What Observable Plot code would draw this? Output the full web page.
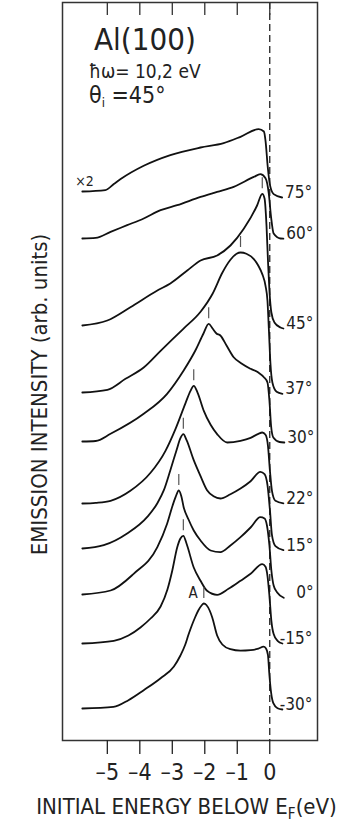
<!DOCTYPE html>
<html>
<head>
<meta charset="utf-8">
<script src="https://cdn.jsdelivr.net/npm/d3@7"></script>
<script src="https://cdn.jsdelivr.net/npm/@observablehq/plot@0.6"></script>
<style>
  html, body { margin: 0; padding: 0; background: #fff; }
  #chart { width: 347px; height: 822px; font-family: "Liberation Sans Narrow", "DejaVu Sans Condensed", "DejaVu Sans", sans-serif; font-stretch: condensed; }
  #chart svg { display: block; font-family: inherit; }
  #xtitle { width: 347px; height: 30px; line-height: 30px; font-size: 22px; color: #222; text-align: center; box-sizing: border-box; padding-left: 26px; white-space: nowrap; }
  #xtitle sub { font-size: 15px; vertical-align: -5px; line-height: 0; }
</style>
</head>
<body>
<div id="chart"></div>
<script>
// Emission angles (top to bottom) and the vertical offset of each spectrum
const angles  = ["75°", "60°", "45°", "37°", "30°", "22°", "15°", "0°", "-15°", "-30°"];
const offsets = [54.9, 50.2, 41.5, 34.8, 29.9, 23.7, 19.2, 14.6, 9.7, 3.2];

// Energy distribution curves: [initial energy (eV), intensity (arb. units)]
const spec75 = [[-5.77,0],[-5.06,0.14],[-4.8,0.74],[-4.59,1.24],[-3.88,2.57],[-3.06,3.64],[-2.13,4.4],[-1.42,4.84],[-0.9,5.47],[-0.34,6.24],[-0.18,6.0],[-0.13,5.07],[-0.06,2.4],[0,0.77],[0.12,-0.26],[0.38,-0.6]];
const spec60 = [[-5.77,0],[-5.36,0.06],[-4.9,0.66],[-4.39,1.33],[-3.88,2.0],[-3.36,2.83],[-2.85,3.33],[-2.13,4.16],[-1.62,4.66],[-1.11,5.16],[-0.49,6.16],[-0.29,6.43],[-0.13,6.03],[-0.03,4.5],[0.04,2.16],[0.12,0.5],[0.33,0],[0.42,-0.02]];
const spec45 = [[-5.77,0],[-5.0,0.5],[-4.29,1.83],[-3.46,3.5],[-3.06,4.2],[-2.54,5.5],[-2.13,6.5],[-1.62,7.0],[-1.21,8.0],[-0.8,9.67],[-0.39,12.0],[-0.23,13.17],[-0.16,12.7],[-0.1,10.0],[-0.055,6.5],[-0.01,3.5],[0.05,1.3],[0.145,0.3],[0.33,-0.2],[0.42,-0.3]];
const spec37 = [[-5.77,0],[-5.0,0.27],[-4.44,1.37],[-3.88,2.5],[-3.36,4.17],[-2.66,6.37],[-2.13,8.07],[-1.76,9.87],[-1.46,11.97],[-1.21,13.27],[-1.02,13.87],[-0.9,14.0],[-0.72,13.87],[-0.49,13.34],[-0.35,12.67],[-0.23,11.84],[-0.13,10.67],[-0.07,9.17],[-0.025,6.17],[0.02,2.97],[0.083,0.97],[0.21,0.07],[0.39,-0.13]];
const spec30 = [[-5.77,0],[-5.36,0.05],[-4.9,0.77],[-3.88,2.77],[-3.16,4.77],[-2.65,7.1],[-2.29,9.1],[-2.04,10.8],[-1.88,11.77],[-1.76,11.3],[-1.64,10.8],[-1.52,10.6],[-1.33,9.6],[-1.11,8.43],[-0.87,7.8],[-0.59,7.27],[-0.35,6.9],[-0.18,6.43],[-0.07,5.9],[-0.01,4.1],[0.04,1.6],[0.11,0.4],[0.3,-0.05],[0.45,-0.1]];
const spec22 = [[-5.77,0],[-5.36,0.07],[-4.9,0.27],[-4.29,1.27],[-3.67,3.07],[-3.21,5.27],[-2.9,7.47],[-2.59,10.07],[-2.44,11.27],[-2.34,11.77],[-2.22,11.07],[-2.03,9.27],[-1.82,7.87],[-1.62,6.94],[-1.31,6.1],[-0.9,6.27],[-0.59,6.57],[-0.35,6.97],[-0.23,7.1],[-0.13,6.87],[-0.055,5.77],[0.006,3.27],[0.068,1.27],[0.175,0.27],[0.42,0.02]];
const spec15 = [[-5.77,0],[-5.11,0.33],[-4.39,1.5],[-3.77,3.16],[-3.46,4.53],[-3.26,5.83],[-3.06,7.83],[-2.87,9.83],[-2.75,11.03],[-2.66,11.43],[-2.56,10.83],[-2.34,8.83],[-2.13,7.23],[-1.93,5.83],[-1.73,5.23],[-1.52,5.0],[-1.21,5.43],[-0.9,6.0],[-0.59,6.73],[-0.29,7.66],[-0.16,7.43],[-0.07,6.33],[0.006,3.83],[0.068,1.33],[0.175,0.23],[0.42,-0.17]];
const spec0  = [[-5.77,0],[-4.9,0.4],[-4.19,2.07],[-3.46,4.73],[-3.16,7.07],[-2.99,8.9],[-2.9,9.73],[-2.8,10.4],[-2.72,9.8],[-2.65,8.73],[-2.5,7.5],[-2.34,6.4],[-2.13,5.4],[-1.82,4.4],[-1.52,4.23],[-1.21,4.9],[-0.9,5.73],[-0.59,6.7],[-0.29,7.73],[-0.16,7.6],[-0.086,6.9],[-0.01,4.9],[0.05,2.4],[0.12,0.9],[0.23,0.2],[0.43,-0.33]];
const specM15 = [[-5.77,0],[-4.8,0.27],[-4.35,0.8],[-3.98,1.6],[-3.67,2.5],[-3.36,3.7],[-3.15,5.4],[-3.0,7.3],[-2.85,9.6],[-2.75,10.5],[-2.66,10.77],[-2.56,9.97],[-2.34,7.6],[-2.13,6.27],[-1.93,5.27],[-1.62,4.87],[-1.27,5.47],[-0.9,6.27],[-0.59,6.97],[-0.23,7.94],[-0.13,7.67],[-0.07,6.77],[-0.01,4.77],[0.05,2.27],[0.12,0.94],[0.24,0.27],[0.39,0]];
const specM30 = [[-5.77,0],[-4.81,0.16],[-4.35,0.83],[-3.88,1.83],[-3.36,3.03],[-2.95,4.2],[-2.75,5.3],[-2.6,6.4],[-2.5,7.4],[-2.4,8.3],[-2.3,9.1],[-2.2,9.8],[-2.1,10.3],[-2.03,10.5],[-1.95,10.35],[-1.85,9.8],[-1.77,9.1],[-1.62,7.3],[-1.46,6.4],[-1.21,5.93],[-0.9,5.78],[-0.59,5.83],[-0.35,5.98],[-0.19,6.18],[-0.12,6.03],[-0.055,5.33],[-0.01,3.33],[0.04,1.63],[0.11,0.53],[0.24,0.03],[0.39,-0.1]];
const spectra = [spec75, spec60, spec45, spec37, spec30, spec22, spec15, spec0, specM15, specM30];

// Energies of the marked emission peaks (none on the two top curves)
const peakEnergy = [null, null, -0.23, -0.9, -1.88, -2.34, -2.66, -2.8, -2.66, -2.03];
const peakName   = ["", "", "", "", "", "", "", "", "", "A"];
const energyTicks = [-5, -4, -3, -2, -1, 0];

// Long-format rows for the curves
const rows = spectra.flatMap((s, i) => s.map(([e, v]) => ({angle: angles[i], e, y: offsets[i] + v})));
const ends = spectra.map((s, i) => ({angle: angles[i], e: s[s.length - 1][0], y: offsets[i] + s[s.length - 1][1]}));
const starts = spectra.map((s, i) => ({angle: angles[i], e: s[0][0], y: offsets[i] + s[0][1]}));
const peaks = peakEnergy.flatMap((pe, i) => {
  if (pe === null) return [];
  const p = spectra[i].reduce((a, b) => Math.abs(b[0] - pe) < Math.abs(a[0] - pe) ? b : a);
  return [{e: pe, y: offsets[i] + p[1], name: peakName[i]}];
});

const yMax = 73.8;
const fmt = d => d < 0 ? "\u2013" + (-d) : String(d);

const chart = Plot.plot({
  width: 347,
  height: 792,
  marginLeft: 62,
  marginRight: 30,
  marginTop: 2,
  marginBottom: 52,
  style: {background: "#fff", color: "#222"},
  x: {domain: [-6.38, 1.47]},
  y: {domain: [0, yMax], axis: null},
  marks: [
    Plot.frame({stroke: "#333", strokeWidth: 1.5}),
    Plot.ruleX([0], {stroke: "#222", strokeWidth: 1.3, strokeDasharray: "7,4"}),
    Plot.ruleX(energyTicks, {y1: yMax, y2: yMax - 1.3, stroke: "#333", strokeWidth: 1.3}),
    Plot.axisX(energyTicks, {anchor: "bottom", tickSize: 14, tickPadding: 9, fontSize: 23, tickFormat: fmt, label: null, strokeWidth: 1.3}),
    Plot.line(rows, {x: "e", y: "y", z: "angle", curve: "monotone-x", stroke: "#111", strokeWidth: 1.8}),
    Plot.ruleX(peaks, {x: "e", y1: d => d.y + 0.5, y2: d => d.y + 1.6, stroke: "#555", strokeWidth: 1.2}),
    Plot.text(peaks, {x: "e", y: d => d.y + 1.05, text: "name", textAnchor: "end", dx: -6, fontSize: 15, fill: "#222"}),
    Plot.text(ends, {x: "e", y: "y", text: "angle", textAnchor: "end", dx: 30, dy: -5, fontSize: 17, fill: "#222"}),
    Plot.text(starts.slice(0, 1), {x: "e", y: "y", text: () => "×2", textAnchor: "start", dx: -7, dy: -10, fontSize: 14, fill: "#222"}),
    Plot.text(["EMISSION INTENSITY (arb. units)"], {frameAnchor: "left", textAnchor: "middle", rotate: -90, dx: -23, dy: 23, fontSize: 22, fill: "#222"})
  ]
});

const root = document.getElementById("chart");
root.appendChild(chart);

// Sample and photon-energy header
const svg = d3.select(chart);
const head = svg.append("g").attr("fill", "#222").attr("text-anchor", "start");
head.append("text").attr("x", 94).attr("y", 50).attr("font-size", 31).text("Al(100)");
head.append("text").attr("x", 89).attr("y", 78).attr("font-size", 19).text("ħω= 10,2 eV");
const th = head.append("text").attr("x", 89).attr("y", 103).attr("font-size", 23);
th.append("tspan").text("θ");
th.append("tspan").attr("font-size", 13).attr("dy", 4).text("i");
th.append("tspan").attr("dy", -4).text(" =45°");

// Energy axis title below the plot, with the Fermi-level subscript
const title = document.createElement("div");
title.id = "xtitle";
title.innerHTML = "INITIAL ENERGY BELOW E<sub>F</sub>(eV)";
root.appendChild(title);
</script>
</body>
</html>
